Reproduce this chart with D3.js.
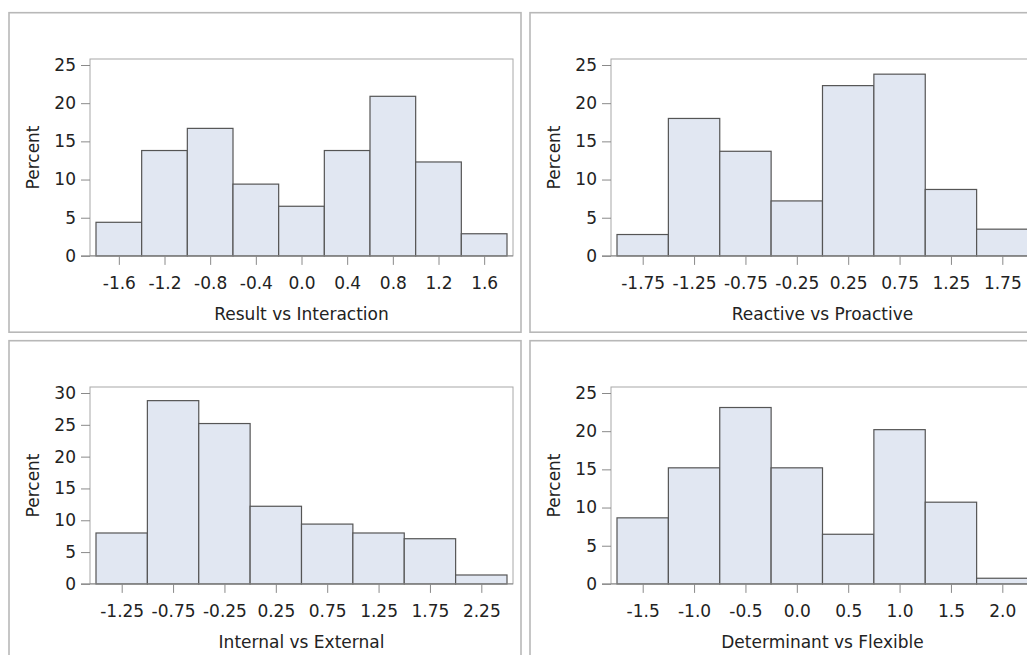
<!DOCTYPE html>
<html>
<head>
<meta charset="utf-8">
<script src="https://cdn.jsdelivr.net/npm/d3@7"></script>
<style>
  body { margin: 0; background: #fff; }
  svg text { font-family: "DejaVu Sans", sans-serif; fill: #222; }
</style>
</head>
<body>
<div id="d3-container"></div>
<script>
// bin midpoints and percent per bin
const resultMid = [-1.6, -1.2, -0.8, -0.4, 0.0, 0.4, 0.8, 1.2, 1.6];
const resultPct = [4.4, 13.8, 16.7, 9.4, 6.5, 13.8, 20.9, 12.3, 2.9];
const resultTicks = ["-1.6", "-1.2", "-0.8", "-0.4", "0.0", "0.4", "0.8", "1.2", "1.6"];

const reactiveMid = [-1.75, -1.25, -0.75, -0.25, 0.25, 0.75, 1.25, 1.75];
const reactivePct = [2.8, 18.0, 13.7, 7.2, 22.3, 23.8, 8.7, 3.5];
const reactiveTicks = ["-1.75", "-1.25", "-0.75", "-0.25", "0.25", "0.75", "1.25", "1.75"];

const internalMid = [-1.25, -0.75, -0.25, 0.25, 0.75, 1.25, 1.75, 2.25];
const internalPct = [8.0, 28.8, 25.2, 12.2, 9.4, 8.0, 7.1, 1.4];
const internalTicks = ["-1.25", "-0.75", "-0.25", "0.25", "0.75", "1.25", "1.75", "2.25"];

const determMid = [-1.5, -1.0, -0.5, 0.0, 0.5, 1.0, 1.5, 2.0];
const determPct = [8.65, 15.2, 23.1, 15.2, 6.5, 20.2, 10.7, 0.74];
const determTicks = ["-1.5", "-1.0", "-0.5", "0.0", "0.5", "1.0", "1.5", "2.0"];

const yTicks25 = [0, 5, 10, 15, 20, 25];
const yTicks30 = [0, 5, 10, 15, 20, 25, 30];

const width = 1027, height = 655;

const svg = d3.select('#d3-container')
  .append('svg')
  .attr('width', width)
  .attr('height', height);

const panels = [
  { x: 9, y: 12.7, label: "Result vs Interaction", mid: resultMid, pct: resultPct, ticks: resultTicks, binW: 0.4, yTicks: yTicks25 },
  { x: 530, y: 12.7, label: "Reactive vs Proactive", mid: reactiveMid, pct: reactivePct, ticks: reactiveTicks, binW: 0.5, yTicks: yTicks25 },
  { x: 9, y: 340.7, label: "Internal vs External", mid: internalMid, pct: internalPct, ticks: internalTicks, binW: 0.5, yTicks: yTicks30 },
  { x: 530, y: 340.7, label: "Determinant vs Flexible", mid: determMid, pct: determPct, ticks: determTicks, binW: 0.5, yTicks: yTicks25 }
];

const panelW = 512, panelH = 319.5;
const plot = { left: 81, right: 8, top: 46.3, bottom: 76.3 };
const pad = 6;
const fs = 17;

function drawPanel(p) {
  const g = svg.append("g").attr("transform", `translate(${p.x},${p.y})`);

  g.append("rect")
    .attr("width", panelW).attr("height", panelH)
    .attr("fill", "none").attr("stroke", "#b8b8b8").attr("stroke-width", 1.6);

  const x0 = plot.left, x1 = panelW - plot.right;
  const y0 = plot.top, y1 = panelH - plot.bottom;

  const lo = p.mid[0] - p.binW / 2;
  const hi = p.mid[p.mid.length - 1] + p.binW / 2;

  const x = d3.scaleLinear().domain([lo, hi]).range([x0 + pad, x1 - pad]);
  const yMax = p.yTicks[p.yTicks.length - 1];
  const y = d3.scaleLinear().domain([0, yMax]).range([y1, y0 + pad]);

  // plot wall
  g.append("rect")
    .attr("x", x0).attr("y", y0)
    .attr("width", x1 - x0).attr("height", y1 - y0)
    .attr("fill", "none").attr("stroke", "#a8a8a8").attr("stroke-width", 1);

  g.append("g")
    .selectAll("rect")
    .data(p.mid.map((m, i) => ({ m, v: p.pct[i] })))
    .join("rect")
      .attr("x", d => x(d.m - p.binW / 2))
      .attr("y", d => y(d.v))
      .attr("width", d => x(d.m + p.binW / 2) - x(d.m - p.binW / 2))
      .attr("height", d => y(0) - y(d.v))
      .attr("fill", "#e1e7f2")
      .attr("stroke", "#555")
      .attr("stroke-width", 1.2);

  const yAxis = g.append("g")
    .attr("transform", `translate(${x0},0)`)
    .call(d3.axisLeft(y).tickValues(p.yTicks).tickSize(9).tickPadding(5).tickSizeOuter(0));
  yAxis.select(".domain").remove();

  const xAxis = g.append("g")
    .attr("transform", `translate(0,${y1})`)
    .call(d3.axisBottom(x).tickValues(p.mid).tickFormat((d, i) => p.ticks[i]).tickSize(9).tickPadding(12).tickSizeOuter(0));
  xAxis.select(".domain").remove();

  g.append("line")
    .attr("x1", x0 - 9).attr("x2", x1)
    .attr("y1", y1).attr("y2", y1)
    .attr("stroke", "#8a8a8a");

  g.selectAll(".tick line").attr("stroke", "#8a8a8a");
  g.selectAll(".tick text")
    .attr("font-size", fs)
    .attr("fill", "#222")
    .attr("font-family", '"DejaVu Sans", sans-serif');

  g.append("text")
    .attr("x", (x0 + x1) / 2)
    .attr("y", y1 + 64.3)
    .attr("text-anchor", "middle")
    .attr("font-size", fs)
    .text(p.label);

  g.append("text")
    .attr("transform", `translate(${30},${(y0 + y1) / 2}) rotate(-90)`)
    .attr("text-anchor", "middle")
    .attr("font-size", fs)
    .text("Percent");
}

panels.forEach(drawPanel);
</script>
</body>
</html>
